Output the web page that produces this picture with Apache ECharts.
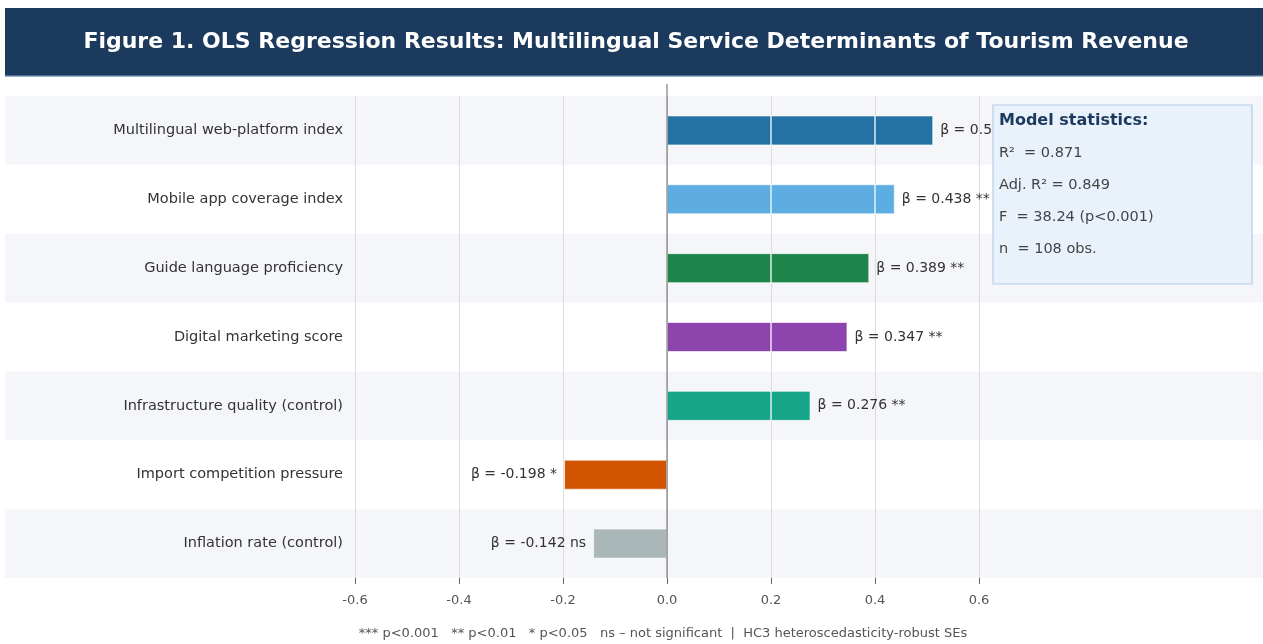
<!DOCTYPE html>
<html>
<head>
<meta charset="utf-8">
<script src="https://cdn.jsdelivr.net/npm/echarts@6/dist/echarts.min.js"></script>
<style>
html,body{margin:0;padding:0;background:#fff;}
#c{width:1263px;height:644px;}
</style>
</head>
<body>
<div id="c"></div>
<script>
const categories = [
  'Multilingual web-platform index',
  'Mobile app coverage index',
  'Guide language proficiency',
  'Digital marketing score',
  'Infrastructure quality (control)',
  'Import competition pressure',
  'Inflation rate (control)'
];
const betas = [0.512, 0.438, 0.389, 0.347, 0.276, -0.198, -0.142];
const sigLevels = ['***', '**', '**', '**', '**', '*', 'ns'];
const xTicks = [-0.6, -0.4, -0.2, 0.0, 0.2, 0.4, 0.6];
const statLines = ['R\u00B2  = 0.871', 'Adj. R\u00B2 = 0.849', 'F  = 38.24 (p<0.001)', 'n  = 108 obs.'];
const barColors = ['#2471a3', '#5dade2', '#1e8449', '#8e44ad', '#17a589', '#d35400', '#aab7b8'];

const FONT = 'DejaVu Sans';
const BAR_W = 30;
const chart = echarts.init(document.getElementById('c'));

const option = {
  animation: false,
  textStyle: { fontFamily: FONT },
  grid: { left: 355, right: 284, top: 96, bottom: 66, containLabel: false },
  xAxis: {
    type: 'value',
    min: xTicks[0], max: xTicks[xTicks.length - 1], interval: 0.2,
    axisLine: { show: false },
    axisTick: { show: true, length: 6, lineStyle: { color: '#666' } },
    axisLabel: { color: '#555', fontSize: 13, margin: 16, fontFamily: FONT,
      formatter: v => v.toFixed(1) },
    splitLine: { show: true, lineStyle: { color: '#dcdcdc', width: 1 } }
  },
  yAxis: {
    type: 'category', data: categories, inverse: true,
    axisLine: { show: false }, axisTick: { show: false },
    axisLabel: { color: '#333', fontSize: 14.5, margin: 12, fontFamily: FONT },
    splitLine: { show: false }
  },
  series: [{
    type: 'bar',
    barWidth: BAR_W,
    z: 2,
    data: betas.map((b, i) => ({
      value: b,
      itemStyle: { color: barColors[i], borderColor: 'rgba(255,255,255,0.6)', borderWidth: 1 },
      label: { position: b >= 0 ? 'right' : 'left' }
    })),
    label: {
      show: true, distance: 7,
      formatter: p => 'β = ' + p.value.toFixed(3) + ' ' + sigLevels[p.dataIndex],
      fontSize: 14, color: '#333', fontFamily: FONT
    }
  }, {
    // white grid lines visible across the bars
    type: 'custom',
    z: 3,
    silent: true,
    data: betas.map((b, i) => [b, i]),
    encode: { x: 0, y: 1 },
    renderItem: (params, api) => {
      const v = api.value(0);
      const idx = api.value(1);
      const children = [];
      xTicks.forEach(t => {
        if (t !== 0 && ((v > 0 && t > 0 && t < v) || (v < 0 && t < 0 && t > v))) {
          const p = api.coord([t, idx]);
          children.push({ type: 'line',
            shape: { x1: p[0], y1: p[1] - BAR_W / 2, x2: p[0], y2: p[1] + BAR_W / 2 },
            style: { stroke: 'rgba(255,255,255,0.85)', lineWidth: 1.5 } });
        }
      });
      return { type: 'group', children };
    }
  }]
};
chart.setOption(option);

// Decorations computed from the library's scales
const y0 = chart.convertToPixel({ yAxisIndex: 0 }, 0);
const y1 = chart.convertToPixel({ yAxisIndex: 0 }, 1);
const step = y1 - y0;
const zeroX = chart.convertToPixel({ xAxisIndex: 0 }, 0);
const plotBottom = chart.convertToPixel({ yAxisIndex: 0 }, categories.length - 1) + step / 2;

const graphics = [];
categories.forEach((c, i) => {
  if (i % 2 === 0) {
    const cy = chart.convertToPixel({ yAxisIndex: 0 }, i);
    graphics.push({ type: 'rect', z: -10, silent: true,
      shape: { x: 5, y: cy - step / 2, width: 1258, height: step },
      style: { fill: '#f4f6f9' } });
  }
});
graphics.push({ type: 'line', z: 50, silent: true,
  shape: { x1: zeroX, y1: 84, x2: zeroX, y2: plotBottom },
  style: { stroke: '#666', lineWidth: 1 } });

// title banner
graphics.push({ type: 'rect', z: 5, shape: { x: 5, y: 8, width: 1258, height: 68 }, style: { fill: '#1c3a5e' } });
graphics.push({ type: 'rect', z: 6, shape: { x: 5, y: 75, width: 1258, height: 1.5 }, style: { fill: '#4f6f94' } });
graphics.push({ type: 'text', z: 7, x: 636, y: 42,
  style: { text: 'Figure 1. OLS Regression Results: Multilingual Service Determinants of Tourism Revenue',
    fill: '#ffffff', font: 'bold 22px "DejaVu Sans"', textAlign: 'center', textVerticalAlign: 'middle' } });

// model statistics box
graphics.push({ type: 'rect', z: 100, shape: { x: 993, y: 105, width: 259, height: 179 },
  style: { fill: '#e9f1fb', stroke: '#b5cde6', lineWidth: 1.2 } });
graphics.push({ type: 'text', z: 101, x: 999, y: 121,
  style: { text: 'Model statistics:', fill: '#1c3a5e', font: 'bold 16px "DejaVu Sans"', textVerticalAlign: 'middle' } });
statLines.forEach((t, i) => {
  graphics.push({ type: 'text', z: 101, x: 999, y: 153 + i * 32,
    style: { text: t, fill: '#444', font: '14.5px "DejaVu Sans"', textVerticalAlign: 'middle' } });
});

// footnote
graphics.push({ type: 'text', z: 10, x: 663, y: 634,
  style: {
    text: '*** p<0.001   ** p<0.01   * p<0.05   ns – not significant  |  HC3 heteroscedasticity-robust SEs',
    fill: '#555', font: '13px "DejaVu Sans"', textAlign: 'center', textVerticalAlign: 'middle'
  } });

chart.setOption({ graphic: { elements: graphics } });
</script>
</body>
</html>
